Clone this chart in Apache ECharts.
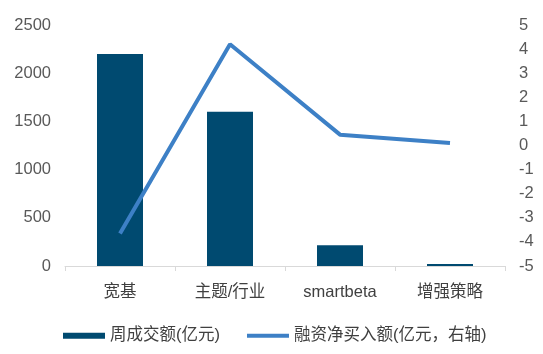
<!DOCTYPE html>
<html>
<head>
<meta charset="utf-8">
<script src="https://cdn.jsdelivr.net/npm/echarts@6/dist/echarts.min.js"></script>
<style>
html, body { margin: 0; padding: 0; background: #fff; }
#chart { width: 543px; height: 354px; }
</style>
</head>
<body>
<div id="chart"></div>
<script>
var categories = ['宽基', '主题/行业', 'smartbeta', '增强策略'];
var weeklyVolume = [2200, 1600, 215, 20];
var marginNetBuy = [-3.65, 4.2, 0.45, 0.1];
var seriesNames = ['周成交额(亿元)', '融资净买入额(亿元，右轴)'];

var myChart = echarts.init(document.getElementById('chart'));
var font = '"Liberation Sans", "Noto Sans CJK SC", sans-serif';

myChart.setOption({
    animation: false,
    grid: {
        left: 65,
        right: 38,
        top: 25,
        bottom: 88
    },
    legend: {
        bottom: 5,
        left: 58,
        itemGap: 27,
        itemWidth: 42,
        itemHeight: 6,
        textStyle: {
            color: '#404040',
            fontSize: 16.5,
            fontFamily: font
        },
        data: [
            { name: seriesNames[0], icon: 'rect' },
            { name: seriesNames[1], icon: 'path://M0,0H42V4H0Z' }
        ]
    },
    xAxis: {
        type: 'category',
        data: categories,
        axisLine: { lineStyle: { color: '#d9d9d9', width: 1 } },
        axisTick: { show: true, lineStyle: { color: '#d9d9d9' } },
        axisLabel: {
            color: '#404040',
            fontSize: 16.5,
            fontFamily: font,
            margin: 18
        }
    },
    yAxis: [
        {
            type: 'value',
            min: 0,
            max: 2500,
            interval: 500,
            splitLine: { show: false },
            axisLine: { show: false },
            axisTick: { show: false },
            axisLabel: {
                color: '#595959',
                fontSize: 16.5,
                fontFamily: font,
                margin: 14,
                formatter: function (v) { return String(v); }
            }
        },
        {
            type: 'value',
            min: -5,
            max: 5,
            interval: 1,
            splitLine: { show: false },
            axisLine: { show: false },
            axisTick: { show: false },
            axisLabel: {
                color: '#595959',
                fontSize: 16.5,
                fontFamily: font,
                margin: 14
            }
        }
    ],
    series: [
        {
            name: seriesNames[0],
            type: 'bar',
            data: weeklyVolume,
            barWidth: 46,
            itemStyle: { color: '#004a70' }
        },
        {
            name: seriesNames[1],
            type: 'line',
            yAxisIndex: 1,
            data: marginNetBuy,
            symbol: 'none',
            lineStyle: { color: '#3d80c6', width: 4 },
            itemStyle: { color: '#3d80c6' }
        }
    ]
});

window.addEventListener('resize', function () {
    myChart.resize();
});
</script>
</body>
</html>
